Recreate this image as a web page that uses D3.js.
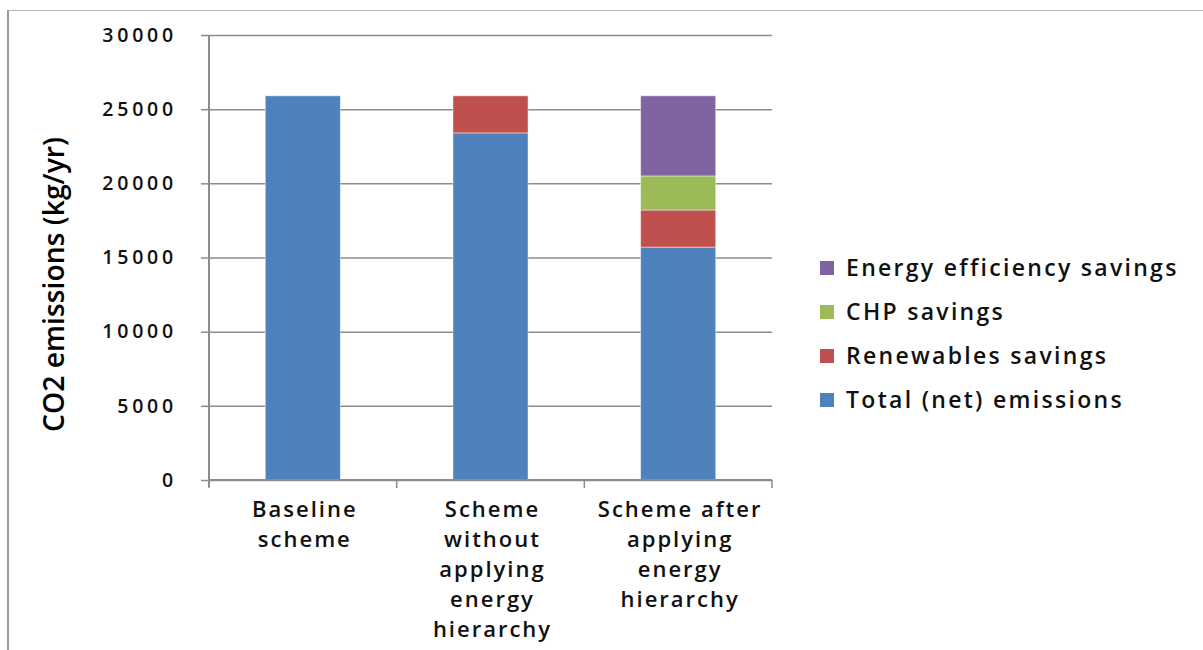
<!DOCTYPE html>
<html>
<head>
<meta charset="utf-8">
<script src="https://cdn.jsdelivr.net/npm/d3@7"></script>
<style>
  body { margin: 0; background: #fff; }
  svg { display: block; }
</style>
</head>
<body>
<div id="chart"></div>
<script>
// data
const categories = ["Baseline scheme", "Scheme without applying energy hierarchy", "Scheme after applying energy hierarchy"];
const catLines = [
    ["Baseline", "scheme"],
    ["Scheme", "without", "applying", "energy", "hierarchy"],
    ["Scheme after", "applying", "energy", "hierarchy"]
];
const seriesNames = ["Total (net) emissions", "Renewables savings", "CHP savings", "Energy efficiency savings"];
const totalNet = [25900, 23400, 15700];
const renewables = [0, 2500, 2500];
const chp = [0, 0, 2300];
const efficiency = [0, 0, 5400];
const yTicks = [0, 5000, 10000, 15000, 20000, 25000, 30000];
const colors = ["#4f81bd", "#c0504d", "#9bbb59", "#8064a2"];

const width = 1203, height = 650;
const plot = { left: 209, right: 772, top: 35, bottom: 480 };
const font = "Open Sans";

const svg = d3.select("#chart").append("svg")
    .attr("width", width)
    .attr("height", height);

// frame of the cut-out
svg.append("line").attr("x1", 8).attr("x2", width).attr("y1", 10.5).attr("y2", 10.5)
    .attr("stroke", "#b4b4b4").attr("stroke-width", 1);
svg.append("line").attr("x1", 8).attr("x2", 8).attr("y1", 10).attr("y2", height)
    .attr("stroke", "#9a9a9a").attr("stroke-width", 2);

const x = d3.scaleBand()
    .domain(categories)
    .range([plot.left, plot.right])
    .paddingInner(0.6)
    .paddingOuter(0.3);

const y = d3.scaleLinear()
    .domain([0, 30000])
    .range([plot.bottom, plot.top]);

// gridlines
const grid = svg.append("g")
    .attr("transform", `translate(${plot.left},0)`)
    .call(d3.axisLeft(y).tickValues(yTicks).tickSize(-(plot.right - plot.left)).tickFormat(""));
grid.select(".domain").remove();
grid.selectAll("line").attr("stroke", "#8c8c8c").attr("stroke-width", 1.5);

// stacked bars
const rows = categories.map((c, i) => ({
    cat: c,
    "Total (net) emissions": totalNet[i],
    "Renewables savings": renewables[i],
    "CHP savings": chp[i],
    "Energy efficiency savings": efficiency[i]
}));
const stacked = d3.stack().keys(seriesNames)(rows);

svg.append("g").selectAll("g")
    .data(stacked)
    .enter().append("g")
    .attr("fill", (d, i) => colors[i])
    .selectAll("rect")
    .data(d => d.filter(p => p[1] > p[0]))
    .enter().append("rect")
    .attr("x", d => x(d.data.cat))
    .attr("width", x.bandwidth())
    .attr("y", d => y(d[1]))
    .attr("height", d => y(d[0]) - y(d[1]))
    .attr("stroke", "#ffffff")
    .attr("stroke-opacity", 0.45)
    .attr("stroke-width", 1);

// y axis
const yAxis = svg.append("g")
    .attr("transform", `translate(${plot.left},0)`)
    .call(d3.axisLeft(y).tickValues(yTicks).tickSize(8).tickPadding(24).tickFormat(d3.format("d")));
yAxis.select(".domain").attr("d", `M0,${plot.top}V${plot.bottom + 7}`)
    .attr("stroke", "#8c8c8c").attr("stroke-width", 2);
yAxis.selectAll(".tick line").attr("stroke", "#8c8c8c").attr("stroke-width", 1.5);
yAxis.selectAll("text")
    .attr("fill", "#111")
    .style("font-family", font)
    .style("font-weight", "600")
    .style("font-size", "19.5px")
    .style("letter-spacing", "3.8px");

// x axis line and boundary ticks
const step = x.step();
const bounds = categories.map(c => x(c) - step * x.paddingInner() / 2);
bounds.push(plot.right);
svg.append("line")
    .attr("x1", plot.left).attr("x2", plot.right)
    .attr("y1", plot.bottom).attr("y2", plot.bottom)
    .attr("stroke", "#8c8c8c").attr("stroke-width", 2);
svg.append("g").selectAll("line")
    .data(bounds)
    .enter().append("line")
    .attr("x1", d => d).attr("x2", d => d)
    .attr("y1", plot.bottom).attr("y2", plot.bottom + 8)
    .attr("stroke", "#8c8c8c").attr("stroke-width", 1.5);

// category labels
const catLabel = svg.append("g").selectAll("text")
    .data(categories)
    .enter().append("text")
    .attr("x", d => x(d) + x.bandwidth() / 2 + 2)
    .attr("y", 517)
    .attr("text-anchor", "middle")
    .style("font-family", font)
    .style("font-weight", "600")
    .style("font-size", "22px")
    .style("letter-spacing", "2px")
    .attr("fill", "#111");
catLabel.selectAll("tspan")
    .data((d, i) => catLines[i])
    .enter().append("tspan")
    .attr("x", function() { return d3.select(this.parentNode).attr("x"); })
    .attr("dy", (d, i) => i === 0 ? 0 : 30)
    .text(d => d);

// y axis title
svg.append("text")
    .attr("transform", `translate(64,${(plot.top + plot.bottom) / 2 + 27}) rotate(-90)`)
    .attr("text-anchor", "middle")
    .attr("textLength", 295)
    .attr("lengthAdjust", "spacingAndGlyphs")
    .style("font-family", font)
    .style("font-size", "29px")
    .style("font-weight", "600")
    .attr("fill", "#000")
    .text("CO2 emissions (kg/yr)");

// legend, top entry is the last series
const legendOrder = seriesNames.map((s, i) => ({ name: s, color: colors[i] })).reverse();
const legend = svg.append("g").selectAll("g")
    .data(legendOrder)
    .enter().append("g")
    .attr("transform", (d, i) => `translate(820,${268 + i * 44})`);
legend.append("rect")
    .attr("x", 0).attr("y", -7)
    .attr("width", 14).attr("height", 14)
    .attr("fill", d => d.color);
legend.append("text")
    .attr("x", 26).attr("y", 8)
    .style("font-family", font)
    .style("font-weight", "600")
    .style("font-size", "23px")
    .style("letter-spacing", "2.3px")
    .attr("fill", "#111")
    .text(d => d.name);
</script>
</body>
</html>
